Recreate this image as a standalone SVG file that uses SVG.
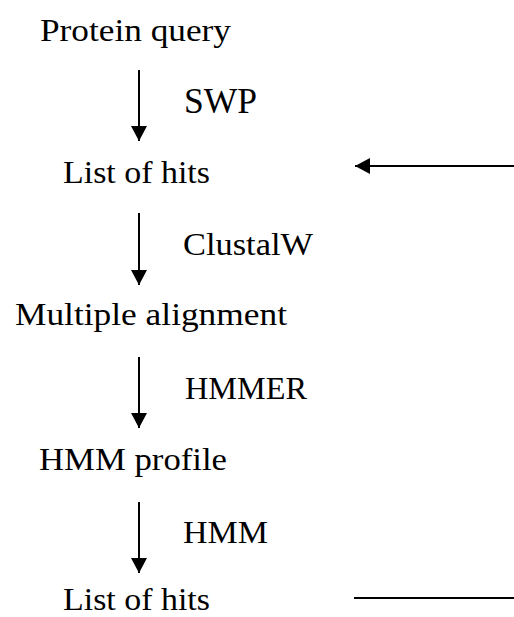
<svg xmlns="http://www.w3.org/2000/svg" width="514" height="617" viewBox="0 0 514 617">
<style>
.t{font-family:"Liberation Serif","Times New Roman",serif;font-size:31px;fill:#000}
.s{font-family:"Liberation Serif","Times New Roman",serif;font-size:36px;fill:#000}
.c{stroke:#000;stroke-width:2;fill:none}
</style>
<defs>
<marker id="ah" markerWidth="16" markerHeight="16" viewBox="0 0 16 16" refX="15" refY="8" orient="auto" markerUnits="userSpaceOnUse">
<path d="M0,0 L15,8 L0,16 Z" fill="#000"/>
</marker>
</defs>
<rect width="514" height="617" fill="#fff"/>
<g id="n1"><text class="t" x="40" y="41" textLength="191" lengthAdjust="spacingAndGlyphs">Protein query</text></g>
<g id="n2"><text class="t" x="63" y="183" textLength="147" lengthAdjust="spacingAndGlyphs">List of hits</text></g>
<g id="n3"><text class="t" x="15" y="325" textLength="272" lengthAdjust="spacingAndGlyphs">Multiple alignment</text></g>
<g id="n4"><text class="t" x="39" y="470" textLength="188" lengthAdjust="spacingAndGlyphs">HMM profile</text></g>
<g id="n5"><text class="t" x="63" y="610" textLength="147" lengthAdjust="spacingAndGlyphs">List of hits</text></g>
<g id="connectors">
<line class="c" x1="139" y1="70" x2="139" y2="141" marker-end="url(#ah)"/>
<line class="c" x1="139" y1="213" x2="139" y2="285" marker-end="url(#ah)"/>
<line class="c" x1="139" y1="357" x2="139" y2="428" marker-end="url(#ah)"/>
<line class="c" x1="139" y1="502" x2="139" y2="573" marker-end="url(#ah)"/>
<line class="c" x1="514" y1="166" x2="355" y2="166" marker-end="url(#ah)"/>
<line class="c" x1="354" y1="598" x2="514" y2="598" stroke-width="2.5"/>
<text class="s" x="184" y="113" textLength="73" lengthAdjust="spacingAndGlyphs">SWP</text>
<text class="t" x="183" y="255" textLength="130" lengthAdjust="spacingAndGlyphs">ClustalW</text>
<text class="t" x="185" y="399" textLength="122" lengthAdjust="spacingAndGlyphs">HMMER</text>
<text class="t" x="183" y="543" textLength="85" lengthAdjust="spacingAndGlyphs">HMM</text>
</g>
</svg>
